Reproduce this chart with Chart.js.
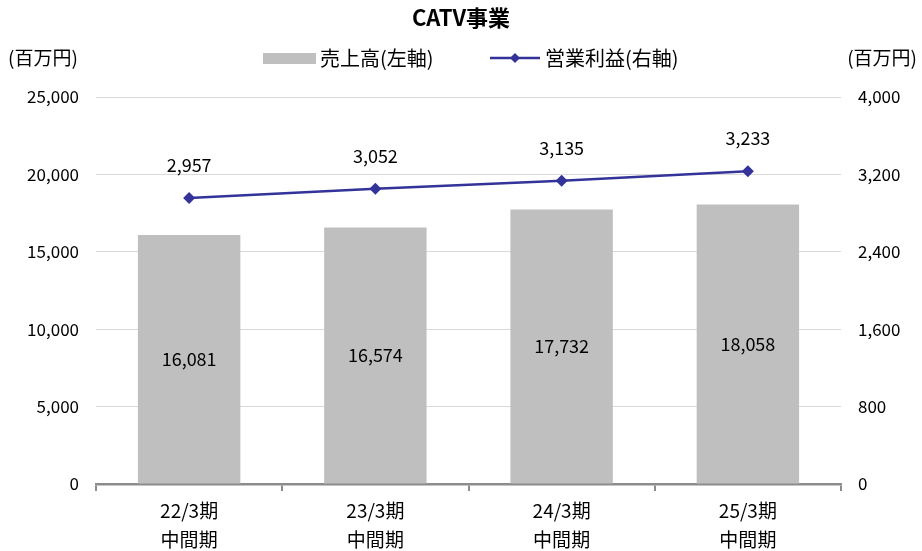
<!DOCTYPE html>
<html>
<head>
<meta charset="utf-8">
<script src="https://cdn.jsdelivr.net/npm/chart.js@4"></script>
<style>
  html, body { margin: 0; padding: 0; background: #fff; }
  #wrap { width: 922px; height: 551px; position: relative; }
</style>
</head>
<body>
<div id="wrap"><canvas id="catvChart"></canvas></div>
<script>
// chart data
const categories = [['22/3期', '中間期'], ['23/3期', '中間期'], ['24/3期', '中間期'], ['25/3期', '中間期']];
const sales = [16081, 16574, 17732, 18058];         // 売上高(左軸)
const operatingProfit = [2957, 3052, 3135, 3233];  // 営業利益(右軸)
const leftTicks = [0, 5000, 10000, 15000, 20000, 25000];
const rightTicks = [0, 800, 1600, 2400, 3200, 4000];

const FONT = "'Noto Sans CJK JP', sans-serif";
const BAR_COLOR = '#bfbfbf';
const LINE_COLOR = '#333399';

// draws title, legend, unit labels and value labels
const extrasPlugin = {
    id: 'extras',
    afterDraw(chart) {
        const c = chart.ctx;
        c.save();
        c.fillStyle = '#000';
        c.textBaseline = 'middle';

        // title
        c.font = "bold 22px " + FONT;
        c.textAlign = 'center';
        c.fillText('CATV事業', 461, 18);

        // unit labels
        c.font = "19px " + FONT;
        c.textAlign = 'left';
        c.fillText('(百万円)', 8, 58);
        c.textAlign = 'right';
        c.fillText('(百万円)', 917, 58);

        // legend
        c.fillStyle = BAR_COLOR;
        c.fillRect(263, 53, 53, 11);
        c.fillStyle = '#000';
        c.textAlign = 'left';
        c.font = "20px " + FONT;
        c.fillText('売上高(左軸)', 320, 58);
        c.strokeStyle = LINE_COLOR;
        c.lineWidth = 2.5;
        c.beginPath();
        c.moveTo(490, 58);
        c.lineTo(540, 58);
        c.stroke();
        c.fillStyle = LINE_COLOR;
        c.beginPath();
        c.moveTo(515, 53); c.lineTo(520, 58); c.lineTo(515, 63); c.lineTo(510, 58);
        c.closePath();
        c.fill();
        c.fillStyle = '#000';
        c.fillText('営業利益(右軸)', 545, 58);

        // value labels
        c.font = "18px " + FONT;
        c.textAlign = 'center';
        const barMeta = chart.getDatasetMeta(0);
        barMeta.data.forEach((bar, i) => {
            const mid = (bar.y + bar.base) / 2;
            c.fillText(sales[i].toLocaleString('en-US'), bar.x, mid);
        });
        const lineMeta = chart.getDatasetMeta(1);
        lineMeta.data.forEach((pt, i) => {
            c.fillText(operatingProfit[i].toLocaleString('en-US'), pt.x, pt.y - 33);
        });
        c.restore();
    }
};

const ctx = document.getElementById('catvChart').getContext('2d');
const catvChart = new Chart(ctx, {
    type: 'bar',
    data: {
        labels: categories,
        datasets: [{
            type: 'bar',
            label: '売上高(左軸)',
            data: sales,
            backgroundColor: BAR_COLOR,
            yAxisID: 'y',
            barPercentage: 0.55,
            categoryPercentage: 1,
            order: 2
        }, {
            type: 'line',
            label: '営業利益(右軸)',
            data: operatingProfit,
            borderColor: LINE_COLOR,
            backgroundColor: LINE_COLOR,
            borderWidth: 2.5,
            pointStyle: 'rectRot',
            pointRadius: 6,
            pointBorderWidth: 0,
            yAxisID: 'y1',
            order: 1
        }]
    },
    options: {
        responsive: true,
        maintainAspectRatio: false,
        animation: false,
        layout: { padding: { top: 97, left: 0, right: 0, bottom: 0 } },
        plugins: {
            legend: { display: false },
            title: { display: false },
            tooltip: { enabled: false }
        },
        scales: {
            x: {
                offset: true,
                grid: {
                    offset: true,
                    drawOnChartArea: false,
                    drawTicks: true,
                    tickLength: 7,
                    color: '#8c8c8c',
                    lineWidth: 2
                },
                border: { color: '#8c8c8c', width: 2.5 },
                ticks: {
                    color: '#000',
                    font: { family: FONT, size: 19, lineHeight: 1.5 },
                    padding: 6,
                    maxRotation: 0
                },
                afterFit(scale) { scale.height = 67; }
            },
            y: {
                position: 'left',
                min: 0,
                max: 25000,
                afterBuildTicks(scale) { scale.ticks = leftTicks.map(v => ({ value: v })); },
                grid: { color: '#d9d9d9', lineWidth: 1, drawTicks: false },
                border: { display: false },
                ticks: {
                    color: '#000',
                    padding: 17,
                    font: { family: FONT, size: 17 },
                    callback: v => v.toLocaleString('en-US')
                },
                afterFit(scale) { scale.width = 96; }
            },
            y1: {
                position: 'right',
                min: 0,
                max: 4000,
                afterBuildTicks(scale) { scale.ticks = rightTicks.map(v => ({ value: v })); },
                grid: { drawOnChartArea: false, drawTicks: false },
                border: { display: false },
                ticks: {
                    color: '#000',
                    padding: 17,
                    font: { family: FONT, size: 17 },
                    callback: v => v.toLocaleString('en-US')
                },
                afterFit(scale) { scale.width = 81; }
            }
        }
    },
    plugins: [extrasPlugin]
});
</script>
</body>
</html>
